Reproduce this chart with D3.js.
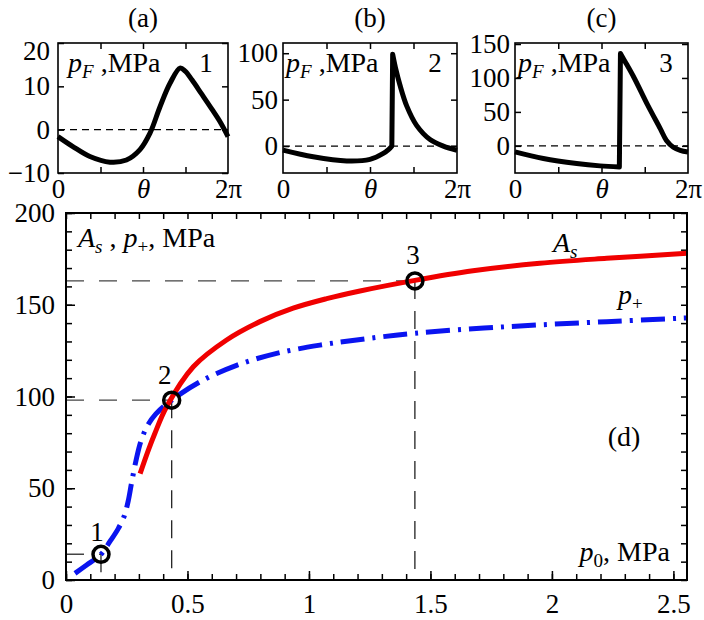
<!DOCTYPE html>
<html><head><meta charset="utf-8">
<script src="https://cdn.jsdelivr.net/npm/d3@7"></script>
<style>
body{margin:0;background:#fff}
svg{display:block}
text{font-family:"Liberation Serif","Times New Roman",serif;fill:#000}
</style>
</head><body>
<svg id="chart" width="704" height="620"></svg>
<script>
const PI = Math.PI;

// ---- Data ----
// panel (a): point 1, [theta, pF (MPa)]
const curve1 = [[0,-1.6],[0.55,-3.9],[1.18,-6.2],[1.92,-7.5],[2.53,-7.0],[3.03,-4.6],[3.4,-0.8],[3.77,5.3],[4.14,10.7],[4.51,14.2],[4.7,13.5],[4.95,11.5],[5.3,8.3],[5.7,4.6],[6.0,1.7],[6.283,-1.6]];
// panel (b): point 2
const curve2 = [[0,-4.3],[1.09,-11.5],[2.3,-16],[3.14,-14.3],[3.62,-7.9],[3.82,-3.5],[3.93,0],[3.96,99],[4.08,82],[4.22,66],[4.47,43],[4.83,22],[5.31,7],[5.79,0],[6.283,-4.5]];
// panel (c): point 3
const curve3 = [[0,-8.8],[1.03,-18.6],[2.24,-26],[3.09,-29.5],[3.79,-31.2],[3.83,136],[4.0,124],[4.33,100],[4.82,60],[5.28,25],[5.5,8],[5.75,-2],[6.0,-6.5],[6.283,-9]];

// panel (d): [p0 (MPa), value (MPa)]
const seriesAs = [[0.305,58],[0.339,70.8],[0.366,80],[0.414,94.4],[0.524,116.2],[0.661,130.8],[0.798,140.8],[0.935,148.1],[1.073,153.3],[1.21,157.5],[1.436,163.3],[1.675,168.5],[1.95,172.6],[2.225,175.3],[2.556,178]];
const seriesPplus = [[0.037,3.6],[0.085,8.2],[0.144,14],[0.181,21],[0.215,28],[0.24,35],[0.256,43],[0.27,53],[0.288,65],[0.308,75.5],[0.335,84],[0.37,90.5],[0.435,98],[0.551,108],[0.702,117],[0.867,123.5],[1.045,128],[1.196,130.8],[1.436,134.5],[1.81,138],[2.225,140.8],[2.556,142.8]];
const markers = [{id:"1",p0:0.144,v:14},{id:"2",p0:0.435,v:98},{id:"3",p0:1.436,v:163}];

const mainXTicks = [0,0.5,1,1.5,2,2.5];
const mainXLabels = ["0","0.5","1","1.5","2","2.5"];
const mainYTicks = [0,50,100,150,200];
const panelXTicks = [PI/2, PI, 3*PI/2];
const panelXLabelPos = [0, PI, 2*PI];
const panelXLabels = ["0","θ","2π"];
const yTicksA = [-10,0,10,20];
const yTicksB = [0,50,100];
const yTicksC = [0,50,100,150];

// ---- Drawing ----
const svg = d3.select("#chart");
const FONT = "Liberation Serif, Times New Roman, serif";

function styleAxis(g, fs){
  g.attr("font-family", FONT).attr("font-size", fs);
  g.select(".domain").remove();
  g.selectAll(".tick line").attr("stroke","#000").attr("stroke-width",1.5);
  g.selectAll("text").attr("fill","#000");
}

// path builder: smooth pieces, straight vertical jumps
function jumpPath(data, sx, sy){
  const pieces = [[data[0]]];
  for(let i=1;i<data.length;i++){
    const a=data[i-1], b=data[i];
    if(Math.abs(sy(b[1])-sy(a[1])) > 40 && Math.abs(sx(b[0])-sx(a[0])) < 3) pieces.push([b]);
    else pieces[pieces.length-1].push(b);
  }
  const ln = d3.line().x(d=>sx(d[0])).y(d=>sy(d[1])).curve(d3.curveCatmullRom.alpha(0.5));
  return pieces.map((p,i)=>{ const s = ln(p); return i===0 ? s : "L" + s.slice(1); }).join("");
}

// --- main panel (d) ---
const M = {l:66, r:687, t:213, b:580};
const x = d3.scaleLinear().domain([0,2.556]).range([M.l,M.r]);
const y = d3.scaleLinear().domain([0,200]).range([M.b,M.t]);

const xMinor = x.ticks(26).filter(v => v <= 2.556);
const yMinor = d3.range(0,201,10);

const gm = svg.append("g");
gm.append("g").attr("transform",`translate(0,${M.b})`).call(d3.axisBottom(x).tickValues(xMinor).tickSize(-6).tickFormat("")).call(styleAxis,27);
gm.append("g").attr("transform",`translate(0,${M.t})`).call(d3.axisTop(x).tickValues(xMinor).tickSize(-6).tickFormat("")).call(styleAxis,27);
gm.append("g").attr("transform",`translate(${M.l},0)`).call(d3.axisLeft(y).tickValues(yMinor).tickSize(-6).tickFormat("")).call(styleAxis,27);
gm.append("g").attr("transform",`translate(${M.r},0)`).call(d3.axisRight(y).tickValues(yMinor).tickSize(-6).tickFormat("")).call(styleAxis,27);
gm.append("g").attr("transform",`translate(0,${M.b})`)
  .call(d3.axisBottom(x).tickValues(mainXTicks).tickSize(-9).tickPadding(14).tickFormat((d,i)=>mainXLabels[i])).call(styleAxis,27);
gm.append("g").attr("transform",`translate(${M.l},0)`)
  .call(d3.axisLeft(y).tickValues(mainYTicks).tickSize(-9).tickPadding(11).tickFormat(d3.format("d"))).call(styleAxis,27);

// reference dashed lines
markers.forEach(m=>{
  gm.append("line").attr("x1",x(0)).attr("x2",x(m.p0)).attr("y1",y(m.v)).attr("y2",y(m.v))
    .attr("stroke","#444").attr("stroke-width",1.4).attr("stroke-dasharray","18,15");
  gm.append("line").attr("x1",x(m.p0)).attr("x2",x(m.p0)).attr("y1",y(m.v)).attr("y2",y(0))
    .attr("stroke","#222").attr("stroke-width",1.3).attr("stroke-dasharray","18,12");
});

gm.append("path").attr("d",jumpPath(seriesPplus,x,y)).attr("fill","none")
  .attr("stroke","#0a14f0").attr("stroke-width",5).attr("stroke-dasharray","24,8,3,8");
gm.append("path").attr("d",jumpPath(seriesAs,x,y)).attr("fill","none")
  .attr("stroke","#f00000").attr("stroke-width",5);

gm.append("rect").attr("x",M.l).attr("y",M.t).attr("width",M.r-M.l).attr("height",M.b-M.t)
  .attr("fill","none").attr("stroke","#000").attr("stroke-width",2);

const labelOff = {"1":[-4,-13],"2":[-7,-16],"3":[-2,-17]};
markers.forEach(m=>{
  gm.append("circle").attr("cx",x(m.p0)).attr("cy",y(m.v)).attr("r",8)
    .attr("fill","none").attr("stroke","#000").attr("stroke-width",3.5);
  gm.append("text").attr("x",x(m.p0)+labelOff[m.id][0]).attr("y",y(m.v)+labelOff[m.id][1])
    .attr("text-anchor","middle").attr("font-size",27).text(m.id);
});

function richText(g, xx, yy, parts, fs, anchor){
  const t = g.append("text").attr("x",xx).attr("y",yy).attr("font-size",fs).attr("text-anchor",anchor||"start");
  let cur = 0;
  parts.forEach(p=>{
    const ts = t.append("tspan").text(p.t);
    if(p.i) ts.attr("font-style","italic");
    const target = p.sub ? 6 : 0;
    if(target!==cur){ ts.attr("dy", target-cur); cur = target; }
    if(p.sub) ts.attr("font-size", fs*0.68);
  });
  return t;
}
richText(gm, 78, 247, [{t:"A",i:1},{t:"s",i:1,sub:1},{t:" , "},{t:"p",i:1},{t:"+",sub:1},{t:", MPa"}], 28);
richText(gm, 553, 252, [{t:"A",i:1},{t:"s",i:1,sub:1}], 28);
richText(gm, 618, 304, [{t:"p",i:1},{t:"+",sub:1}], 28);
gm.append("text").attr("x",624).attr("y",446).attr("text-anchor","middle").attr("font-size",28).text("(d)");
richText(gm, 670, 561, [{t:"p",i:1},{t:"0",sub:1},{t:", MPa"}], 28, "end");

// --- top panels ---
const panels = [
  {l:58, r:228, data:curve1, dom:[-10,20], ticks:yTicksA, title:"(a)", num:"1", pad:8},
  {l:283, r:457, data:curve2, dom:[-29,111], ticks:yTicksB, title:"(b)", num:"2", pad:5},
  {l:515, r:688, data:curve3, dom:[-40,151.5], ticks:yTicksC, title:"(c)", num:"3", pad:5}
];
const PT = 43, PB = 173;
panels.forEach(P=>{
  const g = svg.append("g");
  const px = d3.scaleLinear().domain([0,2*PI]).range([P.l,P.r]);
  const py = d3.scaleLinear().domain(P.dom).range([PB,PT]);
  g.append("line").attr("x1",P.l).attr("x2",P.r).attr("y1",py(0)).attr("y2",py(0))
    .attr("stroke","#000").attr("stroke-width",1.2).attr("stroke-dasharray","7,5");
  g.append("g").attr("transform",`translate(0,${PB})`).call(d3.axisBottom(px).tickValues(panelXTicks).tickSize(-6).tickFormat("")).call(styleAxis,27);
  g.append("g").attr("transform",`translate(0,${PT})`).call(d3.axisTop(px).tickValues(panelXTicks).tickSize(-6).tickFormat("")).call(styleAxis,27);
  g.append("g").attr("transform",`translate(${P.l},0)`).call(d3.axisLeft(py).tickValues(P.ticks).tickSize(-6).tickPadding(P.pad).tickFormat(d=> d<0 ? "\u2212"+Math.abs(d) : d)).call(styleAxis,27);
  g.append("g").attr("transform",`translate(${P.r},0)`).call(d3.axisRight(py).tickValues(P.ticks).tickSize(-6).tickFormat("")).call(styleAxis,27);
  g.selectAll("g text").filter(function(){return this.textContent==="20";}).attr("dy","0.62em");
  g.append("g").attr("transform",`translate(0,${PB})`).call(d3.axisBottom(px).tickValues(panelXLabelPos).tickSize(0).tickPadding(6).tickFormat((d,i)=>panelXLabels[i])).call(styleAxis,27)
    .selectAll("text").attr("font-style",(d,i)=> i===1 ? "italic" : null);
  g.append("path").attr("d",jumpPath(P.data,px,py)).attr("fill","none").attr("stroke","#000").attr("stroke-width",5).attr("stroke-linejoin","round");
  g.append("rect").attr("x",P.l).attr("y",PT).attr("width",P.r-P.l).attr("height",PB-PT)
    .attr("fill","none").attr("stroke","#000").attr("stroke-width",1.6);
  g.append("text").attr("x",(P.l+P.r)/2).attr("y",27).attr("text-anchor","middle").attr("font-size",27).text(P.title);
  richText(g, P.l+(P===panels[0]?10:3), 72, [{t:"p",i:1},{t:"F",i:1,sub:1},{t:" ,MPa"}], 28);
  g.append("text").attr("x",P.r-22).attr("y",72).attr("text-anchor","middle").attr("font-size",27).text(P.num);
});
</script>
</body></html>
